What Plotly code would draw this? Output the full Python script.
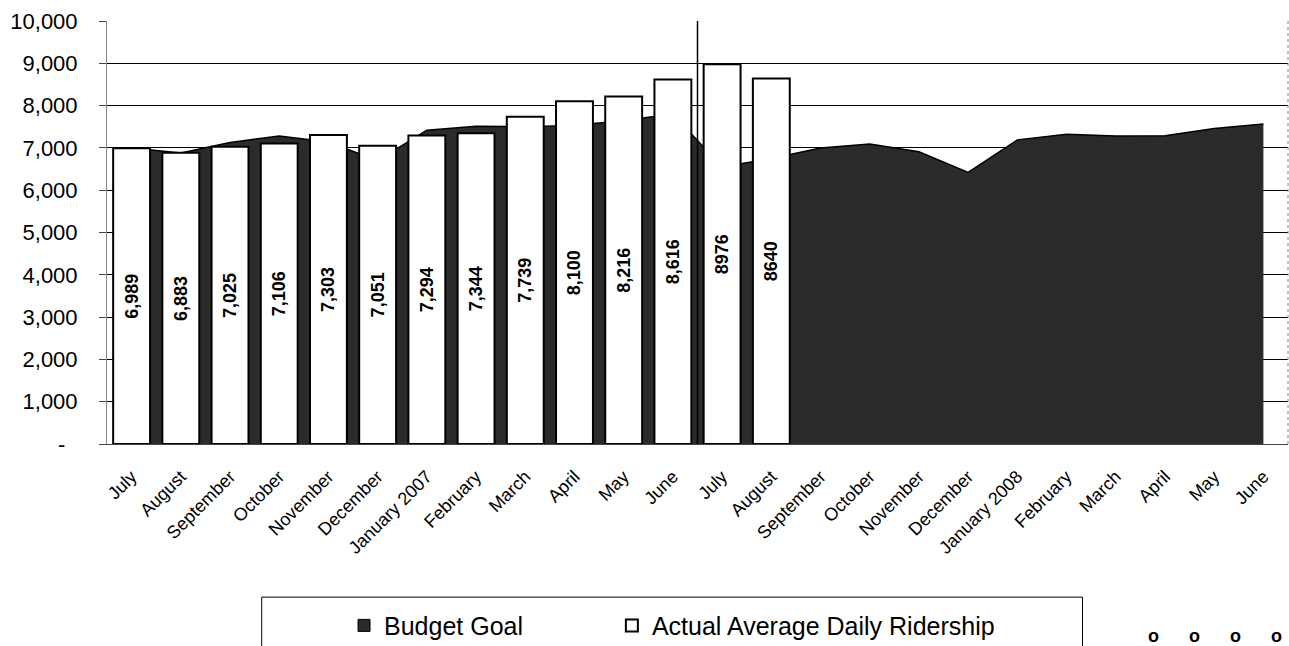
import plotly.graph_objects as go

months = ["July", "August", "September", "October", "November", "December",
          "January 2007", "February", "March", "April", "May", "June",
          "July", "August", "September", "October", "November", "December",
          "January 2008", "February", "March", "April", "May", "June"]

budget_goal = [7000, 6880, 7130, 7280, 7140, 6700, 7420, 7510, 7500, 7530, 7650, 7800,
               6550, 6750, 7000, 7090, 6910, 6420, 7190, 7320, 7280, 7290, 7460, 7565]

actual_ridership = [6989, 6883, 7025, 7106, 7303, 7051, 7294, 7344, 7739, 8100, 8216, 8616,
                    8976, 8640]
actual_labels = ["6,989", "6,883", "7,025", "7,106", "7,303", "7,051", "7,294", "7,344",
                 "7,739", "8,100", "8,216", "8,616", "8976", "8640"]

y_ticks = [0, 1000, 2000, 3000, 4000, 5000, 6000, 7000, 8000, 9000, 10000]
y_ticktext = ["-\u00a0\u00a0", "1,000", "2,000", "3,000", "4,000", "5,000", "6,000",
              "7,000", "8,000", "9,000", "10,000"]

fy_length = 12  # months per fiscal year (divider between the two fiscal years)

idx = list(range(len(months)))
FONT = "Liberation Sans, Arial, sans-serif"
AREA_FILL = "#2b2b2b"

fig = go.Figure()
fig.add_trace(go.Scatter(
    x=idx, y=budget_goal, name="Budget Goal", mode="lines", fill="tozeroy",
    fillcolor=AREA_FILL, line=dict(color="black", width=1.5),
    showlegend=False, legendgroup="budget", xaxis="x", yaxis="y"))
# legend entry (square swatch) for the area series
fig.add_trace(go.Bar(
    x=[None], y=[None], name="Budget Goal", legendgroup="budget",
    marker=dict(color=AREA_FILL, line=dict(color="black", width=1)),
    showlegend=True, legend="legend", xaxis="x", yaxis="y"))
fig.add_trace(go.Bar(
    x=idx[:len(actual_ridership)], y=actual_ridership,
    name="Actual Average Daily Ridership", width=0.75,
    marker=dict(color="white", line=dict(color="black", width=2)),
    text=actual_labels, textposition="inside", insidetextanchor="middle",
    textangle=-90, constraintext="none",
    textfont=dict(family=FONT, size=18, color="black", weight="bold"),
    legend="legend2", xaxis="x2", yaxis="y2"))

xr = [-0.5, len(months) - 0.5]
yr = [0, 10000]

legend_common = dict(orientation="h", xanchor="left", y=-0.375, yanchor="top",
                     bgcolor="rgba(0,0,0,0)", borderwidth=0,
                     font=dict(size=25, family=FONT))

fig.update_layout(
    width=1289, height=646,
    margin=dict(l=107, r=1, t=21, b=202, autoexpand=False),
    paper_bgcolor="white", plot_bgcolor="white",
    font=dict(family=FONT, color="black"),
    xaxis=dict(range=xr, tickmode="array", tickvals=idx, ticktext=months,
               tickangle=-45, tickfont=dict(size=18, family=FONT),
               showgrid=False, zeroline=False, showline=True,
               linecolor="#444", linewidth=1, ticks="", ticklabelstandoff=14),
    xaxis2=dict(range=xr, overlaying="x", visible=False),
    yaxis=dict(range=yr, tickmode="array", tickvals=y_ticks, ticktext=y_ticktext,
               tickfont=dict(size=22, family=FONT), showgrid=True,
               gridcolor="black", gridwidth=1, zeroline=False, showline=True,
               linecolor="#888", linewidth=1, ticks="outside", ticklen=7,
               tickcolor="#444", ticklabelstandoff=17),
    yaxis2=dict(range=yr, overlaying="y", visible=False),
    bargap=0.25,
    showlegend=True,
    legend=dict(x=0.2007, **legend_common),
    legend2=dict(x=0.4275, **legend_common),
    shapes=[
        dict(type="line", xref="x", yref="y", x0=fy_length - 0.5, x1=fy_length - 0.5,
             y0=yr[0], y1=yr[1], line=dict(color="black", width=1.5), layer="above"),
        dict(type="line", xref="paper", yref="paper", x0=1, x1=1, y0=0, y1=1,
             line=dict(color="#888", width=1, dash="dot")),
        dict(type="rect", xref="paper", yref="paper", x0=0.131, x1=0.826,
             y0=-0.362, y1=-0.52, line=dict(color="black", width=1),
             fillcolor="rgba(0,0,0,0)"),
    ],
    annotations=[
        dict(text="<b>o" + ("\u00a0" * 6 + "o") * 3 + "</b>",
             xref="paper", yref="paper", x=0.938, y=-0.454,
             xanchor="center", yanchor="middle", showarrow=False,
             font=dict(size=18, family=FONT, color="black")),
    ],
)

fig.write_html("out.html", config={"displayModeBar": False},
               post_script="document.body.style.margin='0';")
